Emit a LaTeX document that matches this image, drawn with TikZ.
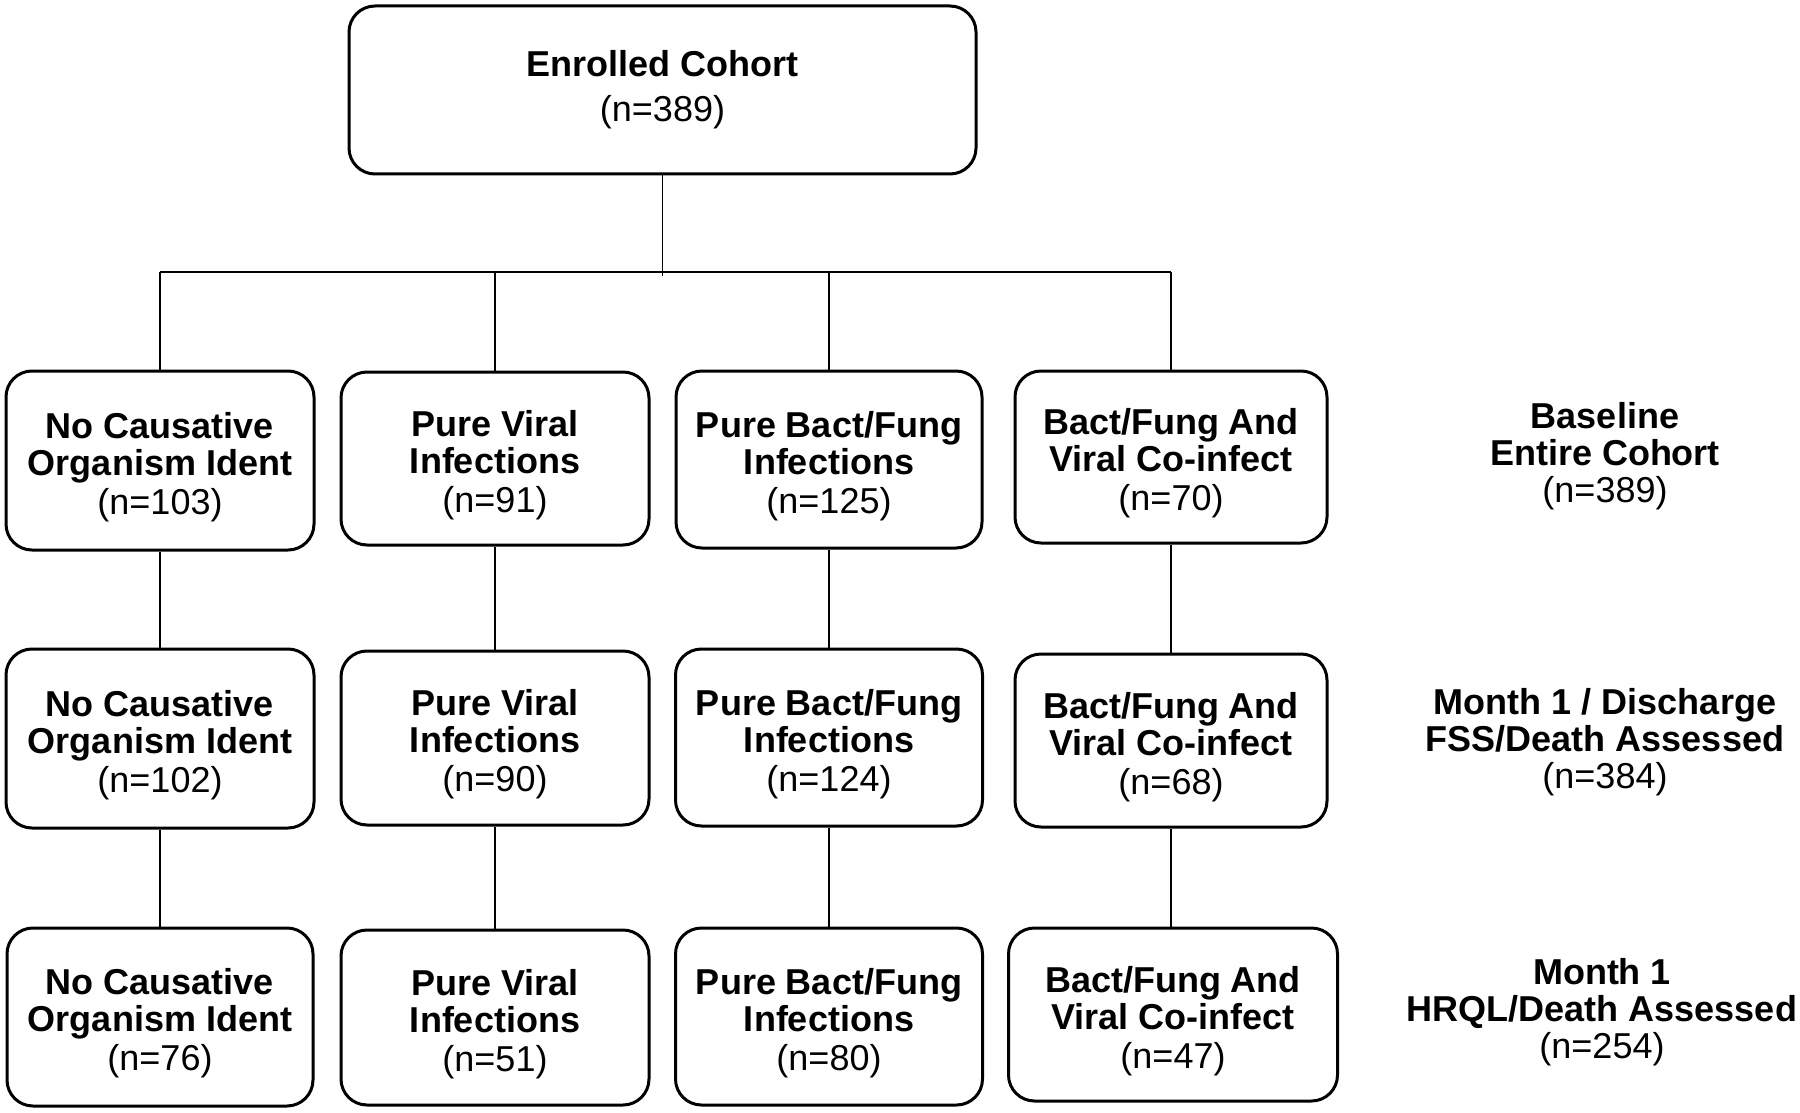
\documentclass[tikz,border=0pt]{standalone}
\usepackage{fontspec}
\setmainfont{Liberation Sans}
\newcommand{\tstrut}{\rule{0pt}{19.3pt}}
\begin{document}
\begin{tikzpicture}[x=0.5pt,y=-0.5pt,
  bx/.style={draw=black, line width=1.5pt, rounded corners=13pt, align=center, inner sep=0pt,
    font=\fontsize{18}{18.5}\selectfont},
  lbl/.style={align=center, inner sep=0pt, font=\fontsize{18}{18.5}\selectfont},
  conn/.style={draw=black, line width=0.8pt}]
\useasboundingbox (0,0) rectangle (1800,1113);
% top
\node[bx, minimum width=313.5pt, minimum height=84pt] (top) at (662.5,90) {\textbf{Enrolled Cohort}\\[4pt](n=389)};
% row 1
\node[bx, minimum width=154pt, minimum height=89.5pt] (b11) at (160,460.5) {\tstrut\textbf{No Causative}\\\textbf{Organism Ident}\\[1pt](n=103)};
\node[bx, minimum width=154pt, minimum height=86.5pt] (b12) at (495,458.5) {\tstrut\textbf{Pure Viral}\\\textbf{Infections}\\[1pt](n=91)};
\node[bx, minimum width=153pt, minimum height=88.5pt] (b13) at (829,459.5) {\tstrut\textbf{Pure Bact/Fung}\\\textbf{Infections}\\[1pt](n=125)};
\node[bx, minimum width=156pt, minimum height=86pt] (b14) at (1171,457) {\tstrut\textbf{Bact/Fung And}\\\textbf{Viral Co-infect}\\[1pt](n=70)};
% row 2
\node[bx, minimum width=154pt, minimum height=89.5pt] (b21) at (160,738.5) {\tstrut\textbf{No Causative}\\\textbf{Organism Ident}\\[1pt](n=102)};
\node[bx, minimum width=154pt, minimum height=87pt] (b22) at (495,738) {\tstrut\textbf{Pure Viral}\\\textbf{Infections}\\[1pt](n=90)};
\node[bx, minimum width=153.5pt, minimum height=88.5pt] (b23) at (829,737.5) {\tstrut\textbf{Pure Bact/Fung}\\\textbf{Infections}\\[1pt](n=124)};
\node[bx, minimum width=156pt, minimum height=86.5pt] (b24) at (1171,740.5) {\tstrut\textbf{Bact/Fung And}\\\textbf{Viral Co-infect}\\[1pt](n=68)};
% row 3
\node[bx, minimum width=153pt, minimum height=89pt] (b31) at (160,1017) {\tstrut\textbf{No Causative}\\\textbf{Organism Ident}\\[1pt](n=76)};
\node[bx, minimum width=154pt, minimum height=87.5pt] (b32) at (495,1017.5) {\tstrut\textbf{Pure Viral}\\\textbf{Infections}\\[1pt](n=51)};
\node[bx, minimum width=153.5pt, minimum height=88.5pt] (b33) at (829,1016.5) {\tstrut\textbf{Pure Bact/Fung}\\\textbf{Infections}\\[1pt](n=80)};
\node[bx, minimum width=164.5pt, minimum height=86.5pt] (b34) at (1173,1014.5) {\tstrut\textbf{Bact/Fung And}\\\textbf{Viral Co-infect}\\[1pt](n=47)};
% right labels
\node[lbl] (l1) at (1605,456) {\textbf{Baseline}\\\textbf{Entire Cohort}\\(n=389)};
\node[lbl] (l2) at (1605,742) {\textbf{Month 1 / Discharge}\\\textbf{FSS/Death Assessed}\\(n=384)};
\node[lbl] (l3) at (1602,1012) {\textbf{Month 1}\\\textbf{HRQL/Death Assessed}\\(n=254)};
% connectors
\coordinate (hub) at (662.5,276);
\coordinate (hl) at (160,272);
\coordinate (hr) at (1171,272);
\draw[conn] (top.south) -- (hub);
\draw[conn] (hl) -- (hr);
\draw[conn] (b11.north) -- (b11.north |- hl);
\draw[conn] (b12.north) -- (b12.north |- hl);
\draw[conn] (b13.north) -- (b13.north |- hl);
\draw[conn] (b14.north) -- (b14.north |- hr);
\draw[conn] (b11.south) -- (b21.north);
\draw[conn] (b12.south) -- (b22.north);
\draw[conn] (b13.south) -- (b23.north);
\draw[conn] (b14.south) -- (b24.north);
\draw[conn] (b21.south) -- (b31.north);
\draw[conn] (b22.south) -- (b32.north);
\draw[conn] (b23.south) -- (b33.north);
\draw[conn] (b24.south) -- (b34.north -| b24.south);
\end{tikzpicture}
\end{document}
